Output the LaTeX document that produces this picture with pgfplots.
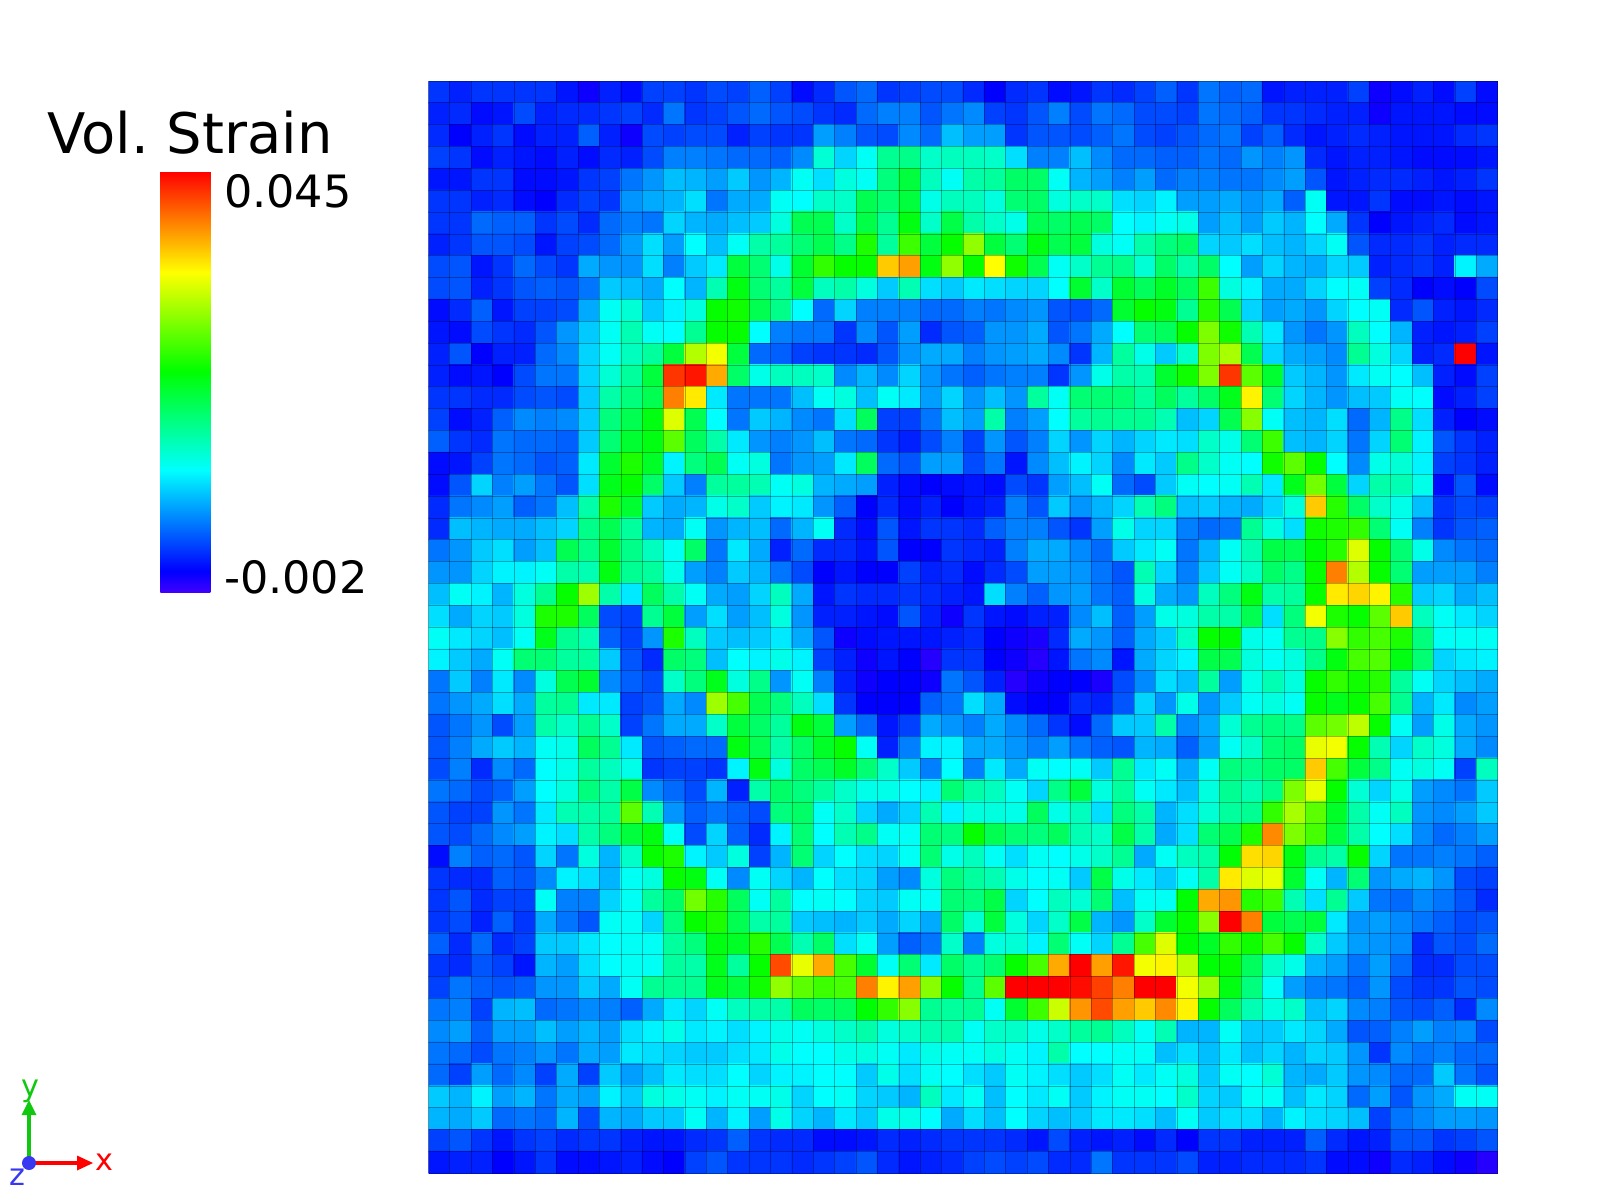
\documentclass[border=0pt]{standalone}
\usepackage{fontspec}
\setmainfont{DejaVu Sans}
\usepackage{pgfplots}
\pgfplotsset{compat=1.18}
% values are position in the colour range, about 0 = -0.002, 100 = 0.045
\pgfplotsset{
  colormap={volstrain}{
    rgb255(0cm)=(64,0,255);
    rgb255(0.5cm)=(0,0,255);
    rgb255(2.9cm)=(0,255,255);
    rgb255(5.25cm)=(0,255,0);
    rgb255(7.6cm)=(255,255,0);
    rgb255(10cm)=(255,0,0)
  }
}
\definecolor{triadgreen}{RGB}{16,200,16}
\definecolor{triadblue}{RGB}{56,56,240}
\frenchspacing
\begin{document}
\begin{tikzpicture}[x=0.01cm,y=-0.01cm]
\path[use as bounding box] (0,0) rectangle (1600,1200);
\begin{axis}[
    at={(4.283cm,-11.727cm)}, anchor=south west,
    scale only axis, width=10.687cm, height=10.917cm,
    xmin=-0.5, xmax=49.5, ymin=-0.5, ymax=49.5, y dir=reverse,
    axis line style={draw=none},
    tick style={draw=none},
    xtick={-0.5,0.5,...,49.5}, ytick={-0.5,0.5,...,49.5},
    xticklabels={}, yticklabels={},
    grid=major, grid style={black, opacity=0.3, line width=0.28pt},
    axis on top,
    colormap name=volstrain,
    point meta min=-0.002, point meta max=0.045,
    colorbar,
    colorbar style={
        at={(parent axis.south west)}, anchor=south west,
        xshift=-2.981cm, yshift=5.807cm,
        width=0.57cm, height=4.21cm,
        axis line style={draw=none},
        grid=none,
        scaled y ticks=false,
        xtick=\empty,
        ytick={-0.0003,0.0428}, yticklabels={-0.002,0.045},
        ytick style={draw=none},
        yticklabel shift=0.06cm,
        yticklabel style={font=\fontsize{12.66}{14}\selectfont, inner xsep=0pt},
    },
]
\addplot[matrix plot*, mesh/cols=50,
    point meta={0.00047*(\thisrowno{0}+1)-0.002}]
  table[row sep=\\, header=false, x expr={\coordindex-50*floor((\coordindex+0.5)/50)}, y expr={floor((\coordindex+0.5)/50)}] {
9\\7\\9\\9\\9\\9\\6\\3\\7\\5\\10\\10\\9\\11\\10\\13\\10\\5\\8\\12\\14\\9\\10\\11\\11\\8\\4\\8\\9\\5\\6\\9\\8\\10\\13\\9\\15\\13\\14\\6\\7\\7\\7\\10\\3\\5\\7\\5\\10\\5\\
7\\8\\5\\6\\11\\7\\8\\8\\9\\10\\8\\15\\9\\10\\12\\14\\12\\11\\9\\8\\14\\16\\16\\12\\15\\17\\10\\9\\12\\16\\11\\15\\14\\11\\11\\10\\15\\14\\13\\9\\9\\8\\7\\7\\3\\6\\6\\6\\5\\5\\
8\\4\\7\\9\\5\\7\\7\\13\\7\\3\\11\\10\\11\\11\\7\\10\\9\\9\\19\\16\\12\\11\\17\\14\\22\\19\\19\\9\\12\\12\\11\\13\\15\\11\\10\\12\\14\\15\\10\\13\\8\\6\\7\\8\\7\\6\\6\\6\\8\\9\\
10\\9\\5\\7\\6\\5\\7\\5\\8\\7\\11\\16\\16\\15\\14\\14\\13\\17\\32\\24\\29\\38\\39\\33\\34\\34\\33\\25\\16\\16\\22\\17\\14\\14\\13\\13\\15\\14\\18\\16\\18\\8\\6\\7\\7\\6\\5\\5\\5\\6\\
6\\6\\9\\9\\5\\5\\6\\9\\10\\15\\18\\22\\21\\19\\23\\18\\21\\29\\25\\31\\29\\40\\46\\34\\29\\36\\37\\42\\42\\29\\21\\19\\16\\19\\14\\16\\16\\15\\15\\17\\19\\12\\6\\7\\8\\8\\7\\6\\7\\9\\
9\\9\\7\\8\\5\\4\\8\\10\\9\\18\\20\\21\\25\\15\\20\\20\\29\\28\\33\\33\\44\\41\\46\\30\\34\\34\\31\\41\\42\\31\\33\\33\\25\\24\\27\\19\\19\\20\\18\\20\\13\\29\\6\\6\\9\\5\\5\\6\\5\\6\\
9\\9\\14\\13\\13\\9\\11\\8\\14\\16\\15\\24\\21\\20\\22\\23\\31\\44\\44\\33\\45\\38\\50\\33\\45\\36\\33\\30\\44\\42\\44\\42\\28\\27\\29\\30\\19\\22\\19\\23\\21\\28\\20\\9\\4\\6\\7\\8\\5\\6\\
7\\9\\12\\12\\11\\6\\10\\11\\14\\19\\25\\19\\28\\22\\29\\36\\37\\41\\44\\39\\54\\37\\57\\46\\52\\65\\46\\41\\50\\44\\46\\31\\29\\36\\40\\42\\24\\23\\25\\22\\21\\24\\29\\12\\8\\8\\9\\7\\8\\8\\
11\\12\\6\\9\\14\\11\\9\\20\\18\\18\\25\\16\\23\\26\\46\\41\\30\\47\\56\\52\\52\\80\\84\\50\\65\\52\\75\\53\\44\\29\\33\\38\\39\\32\\42\\36\\42\\28\\19\\24\\21\\20\\24\\23\\7\\8\\9\\7\\27\\20\\
11\\12\\7\\9\\12\\13\\12\\15\\23\\22\\20\\28\\21\\35\\50\\41\\37\\46\\34\\36\\31\\23\\35\\25\\23\\26\\25\\24\\24\\28\\47\\33\\47\\43\\48\\43\\57\\31\\27\\20\\20\\24\\28\\29\\10\\8\\4\\5\\4\\11\\
5\\8\\13\\6\\10\\10\\11\\20\\29\\32\\23\\27\\31\\52\\53\\44\\39\\28\\14\\24\\16\\16\\16\\14\\14\\16\\15\\17\\18\\12\\11\\14\\47\\52\\50\\38\\55\\44\\24\\19\\20\\18\\24\\28\\29\\8\\12\\7\\6\\8\\
6\\5\\11\\9\\8\\12\\18\\23\\29\\35\\29\\28\\38\\52\\52\\28\\16\\15\\15\\9\\17\\12\\19\\8\\12\\13\\18\\18\\20\\12\\15\\20\\28\\41\\43\\52\\63\\53\\35\\26\\18\\15\\18\\34\\28\\21\\7\\6\\7\\10\\
7\\12\\4\\7\\7\\14\\17\\24\\29\\34\\37\\46\\68\\74\\46\\14\\13\\10\\9\\9\\8\\12\\18\\20\\20\\16\\18\\19\\20\\17\\9\\21\\37\\30\\23\\33\\63\\67\\44\\24\\20\\19\\17\\38\\31\\24\\7\\8\\100\\6\\
7\\5\\6\\4\\11\\15\\15\\24\\32\\37\\46\\94\\97\\83\\42\\30\\34\\34\\33\\17\\21\\17\\24\\18\\15\\13\\15\\16\\16\\9\\18\\30\\36\\35\\47\\53\\63\\94\\60\\47\\23\\21\\18\\26\\29\\28\\22\\7\\5\\10\\
9\\9\\8\\8\\11\\12\\11\\23\\36\\40\\44\\87\\77\\26\\15\\15\\15\\22\\29\\31\\22\\29\\26\\19\\24\\18\\22\\18\\37\\29\\41\\41\\41\\37\\43\\37\\42\\49\\76\\41\\24\\21\\18\\22\\23\\29\\28\\5\\7\\10\\
10\\5\\7\\13\\17\\16\\17\\23\\40\\44\\50\\72\\44\\28\\15\\23\\21\\17\\15\\25\\43\\10\\10\\15\\22\\19\\36\\16\\19\\28\\37\\38\\38\\38\\35\\22\\24\\44\\64\\29\\22\\21\\25\\14\\21\\39\\25\\7\\4\\5\\
13\\9\\8\\15\\14\\14\\13\\23\\41\\47\\50\\60\\43\\36\\26\\18\\16\\18\\22\\15\\14\\9\\7\\11\\16\\10\\18\\12\\16\\24\\18\\24\\21\\24\\26\\25\\33\\30\\41\\57\\22\\21\\24\\15\\24\\41\\27\\12\\9\\7\\
5\\6\\10\\15\\14\\12\\13\\26\\47\\54\\48\\27\\40\\44\\29\\31\\15\\18\\19\\26\\43\\14\\12\\19\\19\\11\\15\\6\\17\\22\\27\\24\\17\\26\\23\\39\\33\\29\\28\\53\\60\\52\\28\\17\\30\\32\\27\\10\\9\\7\\
5\\12\\24\\16\\19\\15\\12\\25\\49\\52\\42\\23\\16\\37\\37\\35\\29\\31\\21\\20\\19\\7\\5\\4\\5\\6\\5\\11\\9\\19\\22\\29\\14\\11\\23\\29\\28\\29\\35\\26\\49\\62\\46\\24\\36\\35\\30\\5\\12\\5\\
8\\15\\17\\19\\13\\15\\22\\36\\54\\47\\23\\20\\21\\30\\33\\23\\27\\26\\18\\13\\4\\8\\5\\7\\4\\6\\7\\16\\12\\23\\18\\21\\24\\35\\40\\22\\23\\21\\20\\24\\31\\80\\55\\42\\33\\30\\22\\9\\11\\10\\
8\\22\\21\\20\\20\\22\\24\\39\\44\\37\\21\\20\\29\\18\\21\\22\\14\\21\\29\\8\\5\\12\\6\\9\\9\\8\\13\\16\\16\\12\\9\\19\\30\\24\\24\\16\\14\\15\\38\\31\\25\\53\\54\\56\\41\\29\\16\\9\\12\\13\\
15\\18\\23\\25\\19\\22\\44\\39\\47\\39\\34\\29\\42\\15\\26\\20\\7\\14\\8\\8\\6\\12\\4\\4\\9\\8\\7\\16\\20\\20\\17\\14\\23\\26\\29\\15\\21\\29\\35\\45\\44\\51\\55\\72\\52\\41\\30\\17\\15\\14\\
18\\18\\24\\27\\27\\29\\36\\35\\50\\38\\37\\30\\19\\16\\23\\21\\15\\11\\4\\6\\4\\4\\10\\7\\8\\5\\8\\11\\19\\19\\18\\15\\12\\35\\24\\16\\23\\29\\33\\42\\39\\52\\87\\68\\52\\41\\19\\19\\19\\16\\
22\\29\\27\\21\\31\\38\\52\\66\\36\\26\\43\\36\\29\\20\\19\\24\\34\\20\\6\\9\\8\\8\\9\\8\\7\\6\\25\\16\\13\\18\\19\\15\\13\\31\\20\\18\\34\\40\\50\\36\\37\\52\\77\\79\\76\\55\\23\\24\\20\\22\\
25\\20\\24\\23\\31\\54\\54\\43\\11\\10\\38\\46\\19\\25\\19\\22\\31\\18\\7\\7\\6\\5\\12\\7\\3\\9\\6\\5\\7\\7\\17\\22\\13\\19\\30\\31\\36\\36\\44\\25\\40\\74\\54\\52\\60\\80\\34\\29\\26\\24\\
29\\26\\24\\22\\29\\49\\38\\35\\13\\10\\18\\54\\34\\23\\22\\23\\26\\20\\12\\3\\5\\6\\6\\6\\7\\8\\4\\3\\2\\8\\20\\18\\13\\20\\23\\33\\52\\51\\30\\29\\38\\39\\64\\56\\58\\54\\40\\29\\29\\29\\
27\\23\\20\\29\\41\\41\\37\\37\\23\\12\\8\\42\\40\\22\\28\\27\\30\\27\\10\\7\\3\\6\\4\\1\\9\\9\\4\\3\\1\\6\\15\\17\\6\\20\\24\\27\\45\\44\\31\\29\\31\\39\\50\\58\\59\\50\\41\\24\\26\\27\\
15\\23\\16\\26\\17\\31\\44\\47\\17\\13\\11\\33\\40\\49\\31\\39\\18\\29\\16\\7\\3\\4\\4\\3\\15\\12\\7\\1\\3\\4\\4\\2\\11\\17\\25\\22\\37\\19\\30\\35\\31\\52\\56\\53\\55\\37\\29\\24\\22\\20\\
15\\18\\20\\25\\20\\37\\38\\26\\26\\10\\12\\20\\17\\66\\58\\44\\40\\34\\25\\9\\4\\4\\4\\13\\15\\25\\20\\5\\4\\4\\8\\7\\12\\24\\18\\30\\18\\23\\29\\31\\29\\52\\49\\52\\58\\38\\21\\26\\17\\19\\
12\\15\\18\\11\\19\\36\\33\\38\\33\\10\\15\\20\\20\\33\\46\\42\\37\\50\\46\\19\\14\\6\\10\\20\\18\\16\\20\\17\\14\\9\\5\\14\\23\\23\\36\\17\\20\\32\\38\\40\\39\\60\\62\\69\\52\\29\\19\\30\\20\\18\\
12\\16\\20\\23\\21\\29\\30\\43\\38\\26\\12\\13\\14\\14\\50\\44\\36\\42\\48\\52\\29\\7\\16\\27\\27\\20\\20\\18\\16\\19\\15\\13\\12\\21\\20\\13\\19\\29\\33\\41\\42\\73\\74\\52\\35\\24\\33\\31\\20\\17\\
11\\16\\8\\17\\14\\28\\30\\37\\34\\30\\9\\10\\10\\9\\27\\50\\31\\42\\44\\48\\41\\33\\23\\16\\28\\16\\26\\20\\29\\28\\29\\23\\38\\26\\29\\20\\29\\40\\39\\42\\42\\80\\58\\46\\39\\29\\31\\29\\10\\34\\
15\\14\\11\\13\\19\\28\\31\\40\\36\\45\\17\\14\\11\\21\\7\\36\\42\\40\\37\\33\\30\\30\\28\\27\\41\\36\\34\\29\\24\\39\\46\\31\\37\\29\\26\\22\\31\\38\\35\\39\\63\\73\\52\\32\\24\\30\\19\\17\\15\\23\\
12\\10\\10\\18\\15\\26\\35\\36\\37\\60\\35\\18\\13\\15\\13\\11\\40\\42\\29\\33\\24\\20\\24\\35\\27\\31\\31\\30\\43\\30\\34\\25\\40\\36\\21\\25\\32\\37\\38\\56\\67\\60\\48\\36\\29\\34\\18\\17\\19\\23\\
12\\11\\14\\17\\19\\27\\25\\36\\40\\46\\50\\29\\11\\24\\13\\8\\27\\41\\28\\35\\39\\29\\29\\41\\40\\52\\44\\41\\40\\43\\35\\33\\45\\36\\20\\25\\41\\44\\54\\86\\63\\58\\46\\36\\28\\25\\17\\14\\16\\19\\
5\\16\\13\\14\\12\\24\\15\\31\\21\\33\\52\\54\\27\\23\\31\\10\\21\\41\\24\\28\\25\\24\\29\\41\\30\\34\\29\\25\\29\\28\\30\\33\\38\\20\\29\\34\\36\\51\\78\\79\\50\\38\\36\\52\\24\\15\\15\\16\\15\\13\\
9\\8\\8\\13\\12\\17\\27\\25\\21\\29\\31\\52\\50\\29\\17\\29\\24\\21\\28\\25\\24\\19\\17\\31\\40\\37\\35\\30\\28\\29\\23\\45\\30\\26\\23\\29\\36\\77\\72\\73\\47\\29\\21\\41\\18\\20\\21\\18\\11\\10\\
9\\12\\8\\10\\10\\29\\16\\16\\24\\29\\37\\42\\62\\55\\43\\29\\37\\28\\29\\28\\24\\23\\29\\29\\41\\40\\45\\24\\28\\34\\32\\41\\22\\29\\29\\51\\83\\85\\55\\57\\35\\25\\38\\23\\15\\14\\17\\15\\12\\8\\
9\\11\\7\\13\\9\\20\\15\\12\\29\\29\\24\\40\\52\\54\\44\\36\\37\\23\\22\\21\\23\\20\\24\\20\\42\\32\\46\\31\\24\\33\\45\\21\\18\\33\\47\\52\\64\\100\\87\\46\\44\\46\\26\\18\\19\\17\\15\\13\\11\\12\\
13\\8\\14\\8\\10\\23\\23\\26\\28\\29\\29\\37\\40\\50\\48\\55\\44\\35\\42\\25\\29\\19\\13\\15\\33\\16\\31\\32\\27\\41\\29\\24\\38\\58\\72\\51\\48\\56\\53\\58\\52\\33\\23\\19\\18\\17\\8\\12\\11\\14\\
9\\8\\12\\10\\6\\21\\19\\25\\28\\29\\29\\37\\36\\49\\37\\52\\92\\73\\83\\58\\47\\29\\41\\26\\42\\38\\41\\52\\58\\83\\99\\84\\97\\74\\76\\69\\51\\52\\43\\33\\30\\21\\19\\15\\19\\14\\8\\8\\11\\11\\
10\\15\\13\\12\\13\\18\\18\\23\\20\\29\\38\\38\\38\\49\\46\\53\\65\\60\\57\\58\\87\\76\\84\\64\\52\\38\\60\\100\\100\\99\\98\\93\\87\\100\\100\\74\\66\\50\\40\\29\\19\\16\\15\\13\\18\\11\\9\\9\\12\\11\\
15\\16\\10\\21\\22\\14\\15\\17\\16\\13\\20\\26\\24\\29\\34\\36\\36\\43\\42\\43\\51\\56\\64\\38\\37\\38\\29\\47\\57\\70\\85\\92\\84\\80\\86\\76\\52\\43\\35\\31\\33\\22\\24\\17\\16\\12\\11\\13\\8\\17\\
17\\19\\13\\19\\19\\22\\19\\21\\19\\25\\27\\30\\26\\27\\25\\27\\30\\29\\31\\33\\36\\31\\33\\35\\36\\29\\33\\33\\30\\33\\37\\38\\34\\29\\35\\21\\21\\29\\23\\23\\26\\24\\20\\12\\13\\16\\19\\16\\17\\11\\
15\\14\\11\\15\\16\\18\\15\\20\\19\\26\\25\\24\\23\\23\\25\\26\\30\\28\\28\\30\\31\\29\\26\\30\\29\\29\\31\\29\\27\\36\\28\\28\\29\\29\\22\\25\\22\\26\\22\\24\\21\\24\\23\\18\\9\\17\\15\\16\\14\\14\\
14\\10\\19\\14\\17\\10\\20\\10\\23\\19\\22\\26\\25\\25\\28\\24\\27\\27\\28\\28\\23\\30\\25\\29\\28\\25\\23\\29\\27\\25\\23\\25\\29\\26\\29\\31\\23\\29\\28\\32\\21\\20\\23\\18\\17\\14\\14\\23\\15\\12\\
23\\21\\27\\19\\21\\15\\20\\19\\27\\23\\31\\30\\29\\27\\29\\29\\30\\24\\28\\29\\24\\23\\21\\34\\26\\29\\22\\28\\26\\29\\23\\27\\29\\29\\28\\33\\24\\23\\29\\29\\22\\26\\24\\14\\19\\12\\18\\20\\29\\29\\
21\\20\\23\\14\\15\\14\\21\\11\\21\\20\\23\\23\\29\\21\\27\\19\\30\\24\\21\\26\\23\\30\\30\\28\\20\\25\\22\\28\\24\\22\\23\\26\\26\\25\\22\\29\\23\\25\\25\\21\\27\\25\\24\\22\\10\\15\\17\\19\\19\\18\\
10\\12\\9\\6\\9\\10\\8\\9\\9\\7\\6\\6\\8\\9\\13\\9\\8\\8\\5\\5\\6\\8\\7\\8\\9\\9\\9\\8\\6\\11\\7\\6\\7\\5\\8\\4\\9\\9\\7\\7\\7\\13\\8\\6\\7\\12\\12\\9\\10\\12\\
6\\7\\7\\4\\6\\9\\5\\5\\6\\7\\5\\4\\10\\12\\9\\9\\9\\8\\9\\10\\12\\8\\6\\7\\8\\10\\11\\10\\11\\8\\8\\15\\9\\9\\9\\11\\7\\7\\8\\8\\8\\9\\5\\5\\3\\8\\7\\5\\3\\1\\
};
\end{axis}
\node[anchor=base west, inner sep=0pt, font=\fontsize{15.9}{18}\selectfont] at (47,153) {Vol. Strain};
% orientation triad
\draw[red, line width=1.2pt] (29,1163) -- (78,1163);
\fill[red] (93,1163) -- (77,1155.5) -- (77,1170.5) -- cycle;
\draw[triadgreen, line width=1.2pt] (29,1163) -- (29,1114);
\fill[triadgreen] (29,1100) -- (21.5,1115) -- (36.5,1115) -- cycle;
\fill[triadblue] (29,1163) circle (7);
\node[red, inner sep=0pt, font=\fontsize{8.6}{10}\selectfont] at (104,1162) {x};
\node[triadgreen, inner sep=0pt, font=\fontsize{8.6}{10}\selectfont] at (30,1091) {y};
\node[triadblue, inner sep=0pt, font=\fontsize{8.6}{10}\selectfont] at (17,1177) {z};
\end{tikzpicture}
\end{document}
